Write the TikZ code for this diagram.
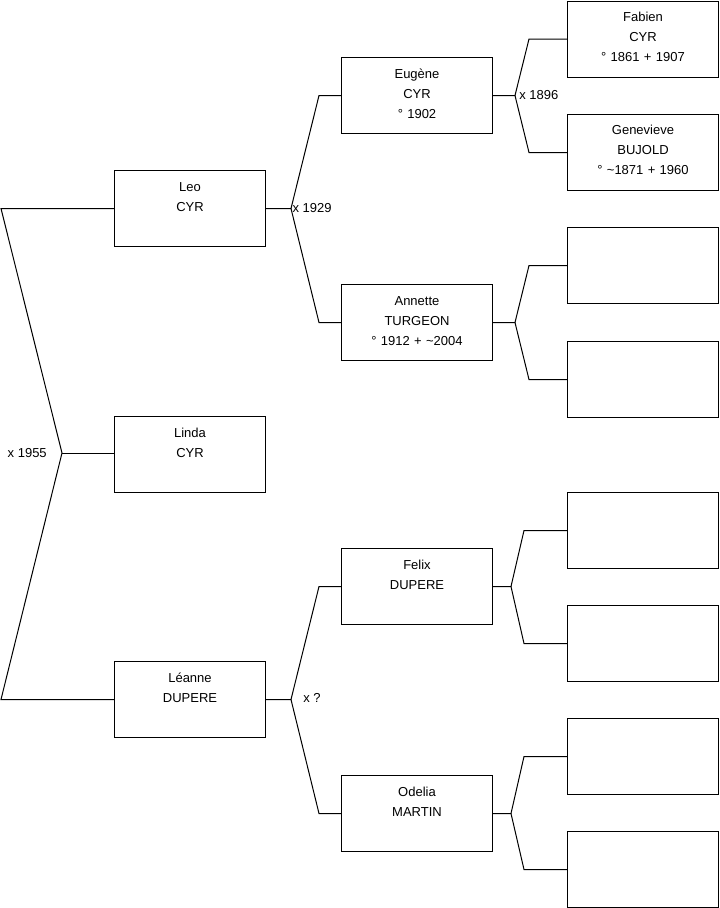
\documentclass[tikz,border=0pt]{standalone}
\usepackage{fontspec}
\setmainfont{Liberation Sans}
\begin{document}
\begin{tikzpicture}[x=0.75pt,y=-0.75pt,
  personbox/.style={draw=black, line width=0.75pt, minimum width=113.25pt, minimum height=57pt, inner sep=0pt, anchor=north west},
  persontext/.style={anchor=base, inner sep=0pt, text width=110pt, align=center, font=\fontsize{9.75}{15}\selectfont},
  marriage/.style={inner sep=0pt, font=\fontsize{9.75}{12}\selectfont},
  conn/.style={draw=black, line width=0.75pt}]
\useasboundingbox (0,0) rectangle (719,908);
% boxes
\node[personbox] (leo) at (114,170) {};
\node[personbox] (linda) at (114,416) {};
\node[personbox] (leanne) at (114,661) {};
\node[personbox] (eugene) at (341,57) {};
\node[personbox] (annette) at (341,284) {};
\node[personbox] (felix) at (341,548) {};
\node[personbox] (odelia) at (341,775) {};
\node[personbox] (fabien) at (567,0.5) {};
\node[personbox] (genevieve) at (567,114) {};
\node[personbox] (e1) at (567,227) {};
\node[personbox] (e2) at (567,341) {};
\node[personbox] (e3) at (567,492) {};
\node[personbox] (e4) at (567,605) {};
\node[personbox] (e5) at (567,718) {};
\node[personbox] (e6) at (567,831) {};
% texts
\node[persontext] (leo-t) at ([yshift=-16pt]leo.north) {Leo\\CYR};
\node[persontext] (linda-t) at ([yshift=-16pt]linda.north) {Linda\\CYR};
\node[persontext] (leanne-t) at ([yshift=-16pt]leanne.north) {Léanne\\DUPERE};
\node[persontext] (eugene-t) at ([yshift=-16pt]eugene.north) {Eugène\\CYR\\° 1902};
\node[persontext] (annette-t) at ([yshift=-16pt]annette.north) {Annette\\TURGEON\\° 1912 + \textasciitilde2004};
\node[persontext] (felix-t) at ([yshift=-16pt]felix.north) {Felix\\DUPERE};
\node[persontext] (odelia-t) at ([yshift=-16pt]odelia.north) {Odelia\\MARTIN};
\node[persontext] (fabien-t) at ([yshift=-15.5pt]fabien.north) {Fabien\\CYR\\° 1861 + 1907};
\node[persontext] (genevieve-t) at ([yshift=-15.5pt]genevieve.north) {Genevieve\\BUJOLD\\° \textasciitilde1871 + 1960};
% junction coordinates
\coordinate (rx) at (1,0);
\coordinate (j0) at (62,453);
\coordinate (jx1) at (291,0);
\coordinate (bx1) at (319,0);
\coordinate (jx2) at (515,0);
\coordinate (bx2) at (529,0);
\coordinate (jx3) at (511,0);
\coordinate (bx3) at (524,0);
% root family
\draw[conn] (leo.west) -- (leo.west -| rx) -- (j0) -- (leanne.west -| rx) -- (leanne.west);
\draw[conn] (j0) -- (j0 -| linda.west);
% Leo's parents
\coordinate (j1) at (leo.east -| jx1);
\draw[conn] (leo.east) -- (j1) -- (eugene.west -| bx1) -- (eugene.west);
\draw[conn] (j1) -- (annette.west -| bx1) -- (annette.west);
% Leanne's parents
\coordinate (j4) at (leanne.east -| jx1);
\draw[conn] (leanne.east) -- (j4) -- (felix.west -| bx1) -- (felix.west);
\draw[conn] (j4) -- (odelia.west -| bx1) -- (odelia.west);
% Eugene's parents
\coordinate (j2) at (eugene.east -| jx2);
\draw[conn] (eugene.east) -- (j2) -- (fabien.west -| bx2) -- (fabien.west);
\draw[conn] (j2) -- (genevieve.west -| bx2) -- (genevieve.west);
% Annette's parents
\coordinate (j3) at (annette.east -| jx2);
\draw[conn] (annette.east) -- (j3) -- (e1.west -| bx2) -- (e1.west);
\draw[conn] (j3) -- (e2.west -| bx2) -- (e2.west);
% Felix's parents
\coordinate (j5) at (felix.east -| jx3);
\draw[conn] (felix.east) -- (j5) -- (e3.west -| bx3) -- (e3.west);
\draw[conn] (j5) -- (e4.west -| bx3) -- (e4.west);
% Odelia's parents
\coordinate (j6) at (odelia.east -| jx3);
\draw[conn] (odelia.east) -- (j6) -- (e5.west -| bx3) -- (e5.west);
\draw[conn] (j6) -- (e6.west -| bx3) -- (e6.west);
% marriage labels
\node[marriage, anchor=east] (m0) at (47,453) {x 1955};
\node[marriage, anchor=west] (m1) at ([xshift=1pt]j1) {x 1929};
\node[marriage, anchor=west] (m2) at ([xshift=3pt]j2) {x 1896};
\node[marriage, anchor=west] (m4) at (303,698) {x ?};
\end{tikzpicture}
\end{document}
